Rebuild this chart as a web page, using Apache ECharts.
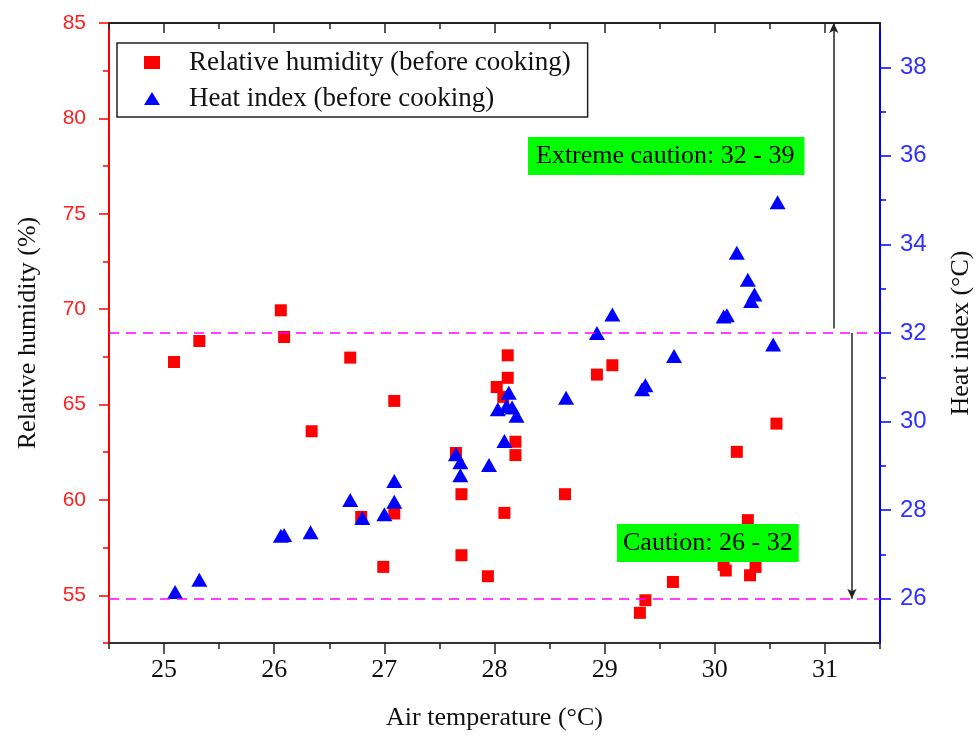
<!DOCTYPE html>
<html>
<head>
<meta charset="utf-8">
<script src="https://cdn.jsdelivr.net/npm/echarts@6/dist/echarts.min.js"></script>
<style>
  html, body { margin: 0; padding: 0; background: #fff; }
  #chart { width: 976px; height: 750px; }
</style>
</head>
<body>
<div id="chart"></div>
<script>
// air temperature (°C) vs relative humidity (%)
const humidityPoints = [
  [25.09, 67.23], [25.32, 68.33], [26.06, 69.94], [26.09, 68.54], [26.34, 63.6],
  [26.69, 67.46], [26.79, 59.11], [26.99, 56.49], [27.09, 65.19], [27.09, 59.29],
  [27.65, 62.46], [27.70, 60.3], [27.70, 57.1], [27.94, 56.0], [28.02, 65.92],
  [28.08, 65.4], [28.09, 59.32], [28.12, 67.58], [28.12, 66.4], [28.19, 63.05],
  [28.19, 62.35], [28.64, 60.3], [28.93, 66.57], [29.07, 67.06], [29.32, 54.08],
  [29.37, 54.74], [29.62, 55.7], [30.08, 56.6], [30.10, 56.3], [30.20, 62.52],
  [30.30, 58.94], [30.32, 56.05], [30.37, 56.49], [30.56, 64.0]
];

// air temperature (°C) vs heat index (°C)
const heatIndexPoints = [
  [25.10, 26.15], [25.32, 26.43], [26.06, 27.42], [26.09, 27.44], [26.33, 27.5],
  [26.69, 28.23], [26.80, 27.82], [27.00, 27.91], [27.09, 28.19], [27.09, 28.66],
  [27.65, 29.26], [27.69, 29.08], [27.69, 28.79], [27.95, 29.02], [28.03, 30.28],
  [28.09, 29.56], [28.11, 30.35], [28.13, 30.65], [28.16, 30.32], [28.20, 30.13],
  [28.65, 30.54], [28.93, 32.0], [29.07, 32.42], [29.34, 30.73], [29.37, 30.82],
  [29.63, 31.48], [30.08, 32.37], [30.11, 32.4], [30.20, 33.81], [30.30, 33.2],
  [30.33, 32.72], [30.36, 32.87], [30.53, 31.74], [30.57, 34.95]
];

// heat index bands
const bandLimits = [26, 32];
const extremeArrow = [[31.08, 32.1], [31.08, 39]];
const cautionArrow = [[31.245, 32], [31.245, 26]];

// ticks
const xMajorTicks = [25, 26, 27, 28, 29, 30, 31];
const xMinorTicks = [24.5, 25.5, 26.5, 27.5, 28.5, 29.5, 30.5, 31.5];
const rhMajorTicks = [55, 60, 65, 70, 75, 80, 85];
const rhMinorTicks = [52.5, 57.5, 62.5, 67.5, 72.5, 77.5, 82.5];
const hiMajorTicks = [26, 28, 30, 32, 34, 36, 38];
const hiMinorTicks = [27, 29, 31, 33, 35, 37];

const SERIF = '"Liberation Serif", "Times New Roman", serif';
const SANS = '"Liberation Sans", Arial, sans-serif';

const chart = echarts.init(document.getElementById('chart'), null, { renderer: 'canvas' });

function xAxisDef(position, ticks, len, inside, extra) {
  return Object.assign({
    type: 'value',
    position: position,
    min: 24.5,
    max: 31.5,
    axisLine: { show: false, onZero: false },
    axisTick: { show: true, inside: inside, length: len, customValues: ticks,
      lineStyle: { color: '#222', width: 1.5 } },
    axisLabel: { show: false },
    splitLine: { show: false }
  }, extra || {});
}

function yAxisDef(position, min, max, ticks, len, color, extra) {
  return Object.assign({
    type: 'value',
    position: position,
    min: min,
    max: max,
    axisLine: { show: false, onZero: false },
    axisTick: { show: true, inside: false, length: len, customValues: ticks,
      lineStyle: { color: color, width: 1.5 } },
    axisLabel: { show: false },
    splitLine: { show: false }
  }, extra || {});
}

const arrowLine = { color: '#222', type: 'solid', width: 1.5 };

const option = {
  backgroundColor: '#fff',
  animation: false,
  grid: { left: 109, right: 96, top: 23, bottom: 107, outerBoundsMode: 'none', containLabel: false },
  legend: {
    orient: 'vertical',
    left: 117,
    top: 43,
    padding: [6, 17, 5, 27],
    itemGap: 9,
    itemWidth: 16,
    itemHeight: 13,
    borderColor: '#222',
    borderWidth: 1.5,
    textStyle: { fontFamily: SERIF, fontSize: 27, color: '#111', padding: [0, 0, 0, 24] },
    data: ['Relative humidity (before cooking)', 'Heat index (before cooking)']
  },
  xAxis: [
    xAxisDef('bottom', xMajorTicks, 11, false, {
      axisLine: { show: true, onZero: false, lineStyle: { color: '#333', width: 2 } },
      axisLabel: { show: true, customValues: xMajorTicks, margin: 14,
        fontFamily: SERIF, fontSize: 26, color: '#111' },
      name: 'Air temperature (°C)',
      nameLocation: 'middle',
      nameGap: 62,
      nameTextStyle: { fontFamily: SERIF, fontSize: 26, color: '#111' }
    }),
    xAxisDef('bottom', xMinorTicks, 6, false),
    xAxisDef('top', xMajorTicks, 10, true, {
      axisLine: { show: true, onZero: false, lineStyle: { color: '#222', width: 2 } }
    }),
    xAxisDef('top', xMinorTicks, 6, true)
  ],
  yAxis: [
    yAxisDef('left', 52.5, 85, rhMajorTicks, 10, '#ff0000', {
      axisLine: { show: true, onZero: false, lineStyle: { color: '#ff0000', width: 2 } },
      axisLabel: { show: true, customValues: rhMajorTicks, margin: 23,
        fontFamily: SANS, fontSize: 21, color: '#ff2020' },
      name: 'Relative humidity (%)',
      nameLocation: 'middle',
      nameGap: 68,
      nameTextStyle: { fontFamily: SERIF, fontSize: 26, color: '#111' }
    }),
    yAxisDef('left', 52.5, 85, rhMinorTicks, 6, '#ff0000'),
    yAxisDef('right', 25, 39, hiMajorTicks, 11, '#0000ff', {
      axisLine: { show: true, onZero: false, lineStyle: { color: '#0000ff', width: 2 } },
      axisLabel: { show: true, customValues: hiMajorTicks, margin: 20,
        fontFamily: SANS, fontSize: 24, color: '#3030ff' },
      name: 'Heat index (°C)',
      nameLocation: 'middle',
      nameGap: 68,
      nameRotate: 90,
      nameTextStyle: { fontFamily: SERIF, fontSize: 26, color: '#111' }
    }),
    yAxisDef('right', 25, 39, hiMinorTicks, 6, '#0000ff')
  ],
  series: [
    {
      name: 'Relative humidity (before cooking)',
      type: 'scatter',
      xAxisIndex: 0,
      yAxisIndex: 0,
      symbol: 'rect',
      symbolSize: 12,
      itemStyle: { color: '#ff0000', opacity: 1 },
      data: humidityPoints,
      z: 3
    },
    {
      name: 'Heat index (before cooking)',
      type: 'scatter',
      xAxisIndex: 0,
      yAxisIndex: 2,
      symbol: 'triangle',
      symbolSize: [16, 14],
      itemStyle: { color: '#0000ff', opacity: 1 },
      data: heatIndexPoints,
      z: 4,
      markLine: {
        silent: true,
        animation: false,
        symbol: ['none', 'none'],
        label: { show: false },
        data: [
          ...bandLimits.map(v => ({
            yAxis: v,
            lineStyle: { color: '#ff00ff', type: [10, 7], width: 1.5 }
          })),
          [
            { coord: extremeArrow[0], lineStyle: arrowLine },
            { coord: extremeArrow[1], symbol: 'arrow', symbolSize: [7, 10] }
          ],
          [
            { coord: cautionArrow[0], lineStyle: arrowLine },
            { coord: cautionArrow[1], symbol: 'arrow', symbolSize: [7, 10] }
          ]
        ]
      }
    }
  ],
  graphic: [
    {
      type: 'text',
      left: 528,
      top: 137,
      z: 10,
      style: {
        text: 'Extreme caution: 32 - 39',
        font: '26px ' + SERIF,
        fill: '#000',
        backgroundColor: '#00ff00',
        padding: [6, 10, 6, 8]
      }
    },
    {
      type: 'text',
      left: 617,
      top: 524,
      z: 10,
      style: {
        text: 'Caution: 26 - 32',
        font: '26px ' + SERIF,
        fill: '#000',
        backgroundColor: '#00ff00',
        padding: [6, 6, 6, 6]
      }
    }
  ]
};

chart.setOption(option);
</script>
</body>
</html>
